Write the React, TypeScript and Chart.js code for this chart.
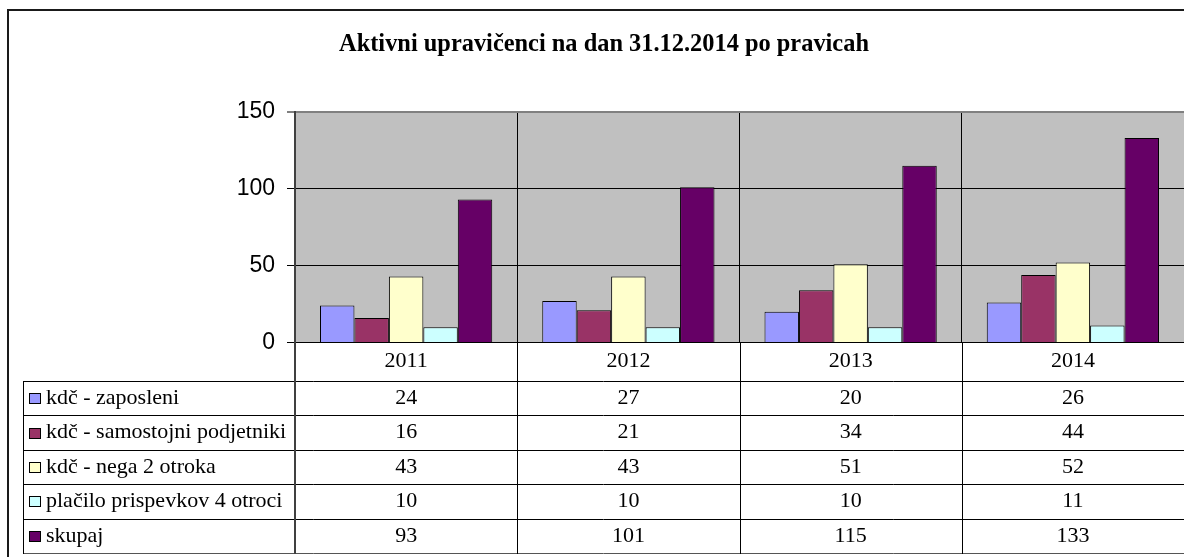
import { useEffect, useRef } from 'react';
import { Chart, registerables } from 'chart.js';

Chart.register(...registerables);

const categories = ['2011', '2012', '2013', '2014'];
const kdcZaposleni = [24, 27, 20, 26];
const kdcSamostojni = [16, 21, 34, 44];
const kdcNega = [43, 43, 51, 52];
const placiloPrispevkov = [10, 10, 10, 11];
const skupaj = [93, 101, 115, 133];
const seriesNames = [
  'kdč - zaposleni',
  'kdč - samostojni podjetniki',
  'kdč - nega 2 otroka',
  'plačilo prispevkov 4 otroci',
  'skupaj',
];
const seriesValues = [kdcZaposleni, kdcSamostojni, kdcNega, placiloPrispevkov, skupaj];
const seriesColors = ['#9999FF', '#993366', '#FFFFCC', '#CCFFFF', '#660066'];
const titleText = 'Aktivni upravičenci na dan 31.12.2014 po pravicah';
const yMin = 0;
const yMax = 150;
const yStep = 50;

const W = 1184;
const H = 557;
const PLOT_LEFT = 295;
const PLOT_TOP = 112;
const PLOT_BOTTOM = 342.5;
const TABLE_TOP = 381;
const TABLE_BOTTOM = 553;
const TABLE_LEFT = 23;
const SERIF = '"Liberation Serif", "Times New Roman", serif';
const SANS = '"Liberation Sans", Arial, sans-serif';
const TABLE_FONT = 22;

const chartPlugin = {
  id: 'excelFrame',
  beforeDraw(chart: any) {
    const { ctx, chartArea } = chart;
    ctx.save();
    ctx.fillStyle = '#ffffff';
    ctx.fillRect(0, 0, W, H);
    ctx.fillStyle = '#C0C0C0';
    ctx.fillRect(chartArea.left, chartArea.top, chartArea.right - chartArea.left, chartArea.bottom - chartArea.top);
    ctx.fillStyle = '#1a1a1a';
    ctx.fillRect(7, 9, W - 7, 2);
    ctx.fillRect(7, 9, 2, H - 9);
    ctx.font = `bold 24.4px ${SERIF}`;
    ctx.fillStyle = '#000';
    ctx.textAlign = 'center';
    ctx.textBaseline = 'middle';
    ctx.fillText(titleText, 604, 45);
    ctx.restore();
  },
  afterDraw(chart: any) {
    const { ctx } = chart;
    const xs = chart.scales.x;
    const n = categories.length;
    const step = (xs.right - xs.left) / n;
    const rows = seriesNames.length;
    const rowH = (TABLE_BOTTOM - TABLE_TOP) / rows;
    ctx.save();
    const line = (x1: number, y1: number, x2: number, y2: number) => {
      ctx.beginPath();
      ctx.moveTo(x1, y1);
      ctx.lineTo(x2, y2);
      ctx.stroke();
    };
    ctx.lineWidth = 1;
    for (let r = 0; r <= rows; r++) {
      const y = Math.round(TABLE_TOP + r * rowH) + 0.5;
      ctx.strokeStyle = r === rows ? '#555' : '#000';
      line(TABLE_LEFT, y, W, y);
    }
    ctx.strokeStyle = '#000';
    line(TABLE_LEFT + 0.5, TABLE_TOP, TABLE_LEFT + 0.5, TABLE_BOTTOM + 1);
    for (let i = 0; i <= n; i++) {
      const xx = Math.round(xs.left + i * step);
      if (i === 0) {
        ctx.strokeStyle = '#404040';
        ctx.lineWidth = 2;
        line(xx, xs.top, xx, TABLE_BOTTOM + 1);
      } else {
        ctx.strokeStyle = '#000';
        ctx.lineWidth = 1;
        line(xx + 0.5, xs.top, xx + 0.5, TABLE_BOTTOM + 1);
      }
    }
    ctx.lineWidth = 1;
    ctx.textBaseline = 'middle';
    for (let r = 0; r < rows; r++) {
      const ym = TABLE_TOP + (r + 0.5) * rowH;
      ctx.fillStyle = seriesColors[r];
      ctx.fillRect(29, Math.round(ym) - 5, 12, 11);
      ctx.strokeStyle = '#000';
      ctx.strokeRect(29.5, Math.round(ym) - 4.5, 11, 10);
      ctx.fillStyle = '#000';
      ctx.font = `${TABLE_FONT}px ${SERIF}`;
      ctx.textAlign = 'left';
      ctx.fillText(seriesNames[r], 46, ym);
      ctx.textAlign = 'center';
      seriesValues[r].forEach((v, i) => {
        ctx.fillText(String(v), xs.getPixelForValue(i), ym);
      });
    }
    ctx.restore();
  },
};

export default function App() {
  const ref = useRef<HTMLCanvasElement>(null);
  useEffect(() => {
    if (!ref.current) return;
    const chart = new Chart(ref.current, {
      type: 'bar',
      data: {
        labels: categories,
        datasets: seriesNames.map((name, i) => ({
          label: name,
          data: seriesValues[i],
          backgroundColor: seriesColors[i],
          borderColor: '#000',
          borderWidth: 1,
          categoryPercentage: 0.775,
          barPercentage: 1,
        })),
      },
      options: {
        animation: false,
        responsive: false,
        devicePixelRatio: 1,
        layout: { padding: { top: PLOT_TOP, left: 0, right: 0, bottom: 0 } },
        plugins: {
          legend: { display: false },
          tooltip: { enabled: false },
          title: { display: false },
        },
        scales: {
          x: {
            offset: true,
            grid: { color: '#000', lineWidth: 1, drawTicks: false, offset: true },
            border: { color: '#000', width: 1 },
            ticks: { color: '#000', font: { family: SERIF, size: TABLE_FONT }, padding: 5.8 },
            afterFit: (scale: any) => {
              scale.height = H - PLOT_BOTTOM;
            },
          },
          y: {
            min: yMin,
            max: yMax,
            ticks: { stepSize: yStep, color: '#000', font: { family: SANS, size: 23 }, padding: 12 },
            grid: {
              color: (c: any) => (c.tick && c.tick.value === yMax ? '#808080' : '#000'),
              lineWidth: (c: any) => (c.tick && c.tick.value === yMax ? 2 : 1),
              tickLength: 8,
            },
            border: { color: '#404040', width: 2 },
            afterFit: (scale: any) => {
              scale.width = PLOT_LEFT;
            },
          },
        },
      },
      plugins: [chartPlugin],
    });
    return () => chart.destroy();
  }, []);
  return (
    <div style={{ position: 'absolute', left: 0, top: 0, width: W, height: H }}>
      <canvas ref={ref} width={W} height={H} style={{ display: 'block' }} />
    </div>
  );
}
